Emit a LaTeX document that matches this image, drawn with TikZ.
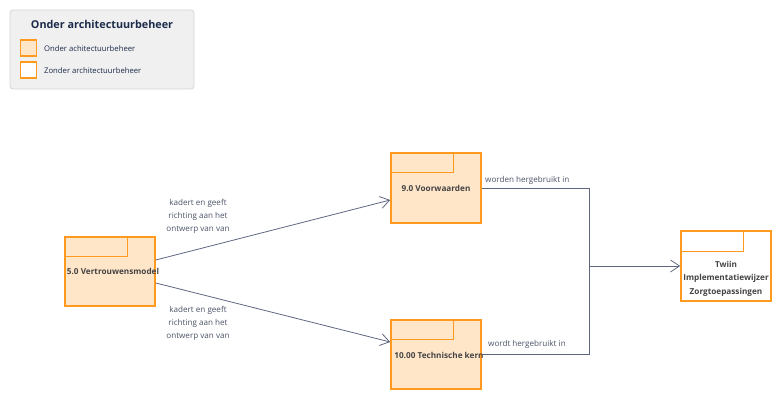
\documentclass[tikz,border=0pt]{standalone}
\usepackage{fontspec}
\setmainfont{Open Sans}
\usetikzlibrary{arrows.meta}
\definecolor{orng}{HTML}{FF9A1E}
\definecolor{lfill}{HTML}{FFE6C9}
\definecolor{lnc}{HTML}{5F6680}
\definecolor{lbl}{HTML}{4A5266}
\definecolor{nodetxt}{HTML}{444444}
\definecolor{legfill}{HTML}{F0F0F0}
\definecolor{legdraw}{HTML}{D4D4D4}
\definecolor{titlec}{HTML}{1C2B4A}
\tikzset{
  pkg/.style={draw=orng, line width=1.6pt, fill=lfill, minimum width=90pt, inner sep=0pt},
  tabline/.style={draw=orng, line width=1.1pt},
  conn/.style={draw=lnc, line width=0.8pt},
  arr/.style={-{Straight Barb[length=9pt,width=12pt,line width=0.8pt]}},
  ntxt/.style={font=\fontsize{8.2}{11}\selectfont\bfseries, text=nodetxt, align=center, inner sep=0pt},
  ltxt/.style={font=\fontsize{8.1}{13}\selectfont, text=lbl, align=center, inner sep=0pt},
}
\begin{document}
\begin{tikzpicture}[x=1pt,y=-1pt]
\useasboundingbox (0,0) rectangle (781,419);
% legend
\node[draw=legdraw, fill=legfill, rounded corners=3pt, line width=0.8pt, minimum width=184pt, minimum height=79pt, inner sep=0pt] (leg) at (102,49.5) {};
\node[font=\fontsize{10.8}{12}\selectfont\bfseries, text=titlec, inner sep=0pt] (legt) at (102,24) {Onder architectuurbeheer};
\node[draw=orng, line width=1.6pt, fill=lfill, minimum width=16pt, minimum height=16pt, inner sep=0pt] (sw1) at (28.5,48) {};
\node[draw=orng, line width=1.6pt, fill=white, minimum width=16pt, minimum height=16pt, inner sep=0pt] (sw2) at (28.5,70) {};
\node[font=\fontsize{7.7}{9}\selectfont, text=titlec, anchor=west, inner sep=0pt] (l1) at (44,48.5) {Onder achitectuurbeheer};
\node[font=\fontsize{7.7}{9}\selectfont, text=titlec, anchor=west, inner sep=0pt] (l2) at (44,70.5) {Zonder architectuurbeheer};
% packages
\node[pkg, minimum height=69pt] (vm) at (110,271.5) {};
\draw[tabline] (vm.north west) |- ++(63,20) -- ++(0,-20);
\node[ntxt] (vmt) at (113,271.5) {5.0 Vertrouwensmodel};
\node[pkg, minimum height=70pt] (vw) at (436,188) {};
\draw[tabline] (vw.north west) |- ++(63,20) -- ++(0,-20);
\node[ntxt] (vwt) at (436,188) {9.0 Voorwaarden};
\node[pkg, minimum height=69pt] (tk) at (436,354.5) {};
\draw[tabline] (tk.north west) |- ++(63,20) -- ++(0,-20);
\node[ntxt] (tkt) at (439,355) {10.00 Technische kern};
\node[pkg, fill=white, minimum height=70pt] (tw) at (726,266) {};
\draw[tabline] (tw.north west) |- ++(63,21) -- ++(0,-21);
\node[ntxt, font=\fontsize{8.2}{13.5}\selectfont\bfseries] (twt) at (726,278.5) {Twiin\\Implementatiewijzer\\Zorgtoepassingen};
% connectors
\coordinate (j) at (589,266);
\draw[conn, arr] ([yshift=11.5pt]vm.east) -- ([yshift=-12pt]vw.west);
\draw[conn, arr] ([yshift=-11.5pt]vm.east) -- ([yshift=12.5pt]tk.west);
\draw[conn] (vw.east) -| (j);
\draw[conn] (tk.east) -| (j);
\draw[conn, arr] (j) -- (tw.west);
% labels
\node[ltxt] (lab1) at (198,216) {kadert en geeft\\richting aan het\\ontwerp van van};
\node[ltxt] (lab2) at (198,323) {kadert en geeft\\richting aan het\\ontwerp van van};
\node[ltxt, anchor=west] (lab3) at (485,180) {worden hergebruikt in};
\node[ltxt, anchor=west] (lab4) at (488,344.5) {wordt hergebruikt in};
\end{tikzpicture}
\end{document}
